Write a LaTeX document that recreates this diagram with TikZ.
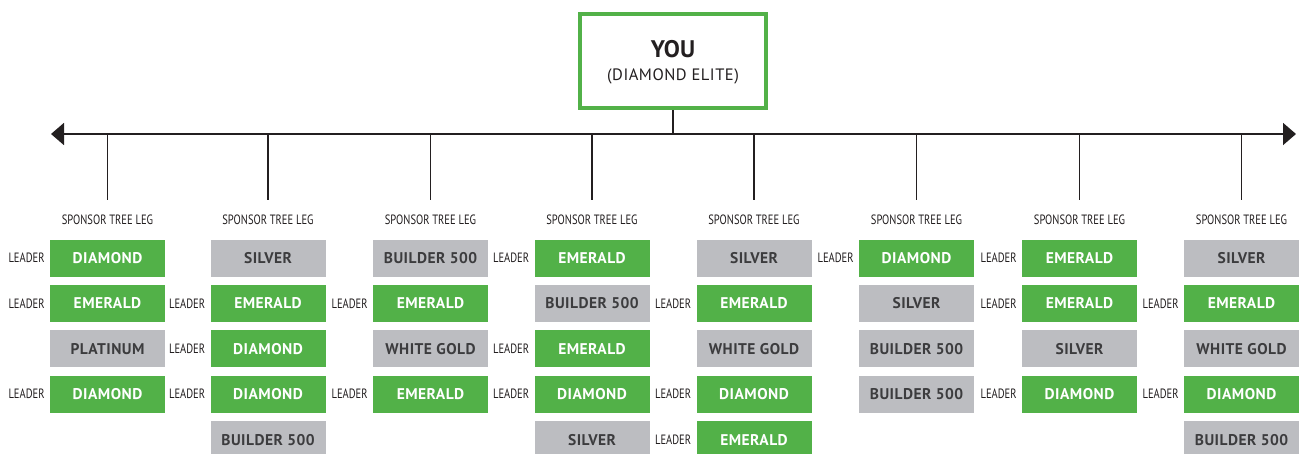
\documentclass[tikz,border=0pt]{standalone}
\usepackage{fontspec}
\setmainfont{PT Sans}
\newfontfamily\condf[FakeStretch=0.78]{PT Sans}
\newfontfamily\boxf[LetterSpace=3]{PT Sans}
\usetikzlibrary{arrows.meta}
\definecolor{grn}{HTML}{52B148}
\definecolor{gry}{HTML}{BCBDC1}
\definecolor{ink}{HTML}{231F20}
\definecolor{dtxt}{HTML}{3C3C3E}
\tikzset{
  boxbase/.style={minimum width=115pt, minimum height=37pt, inner sep=0pt,
    font=\boxf\bfseries\fontsize{15.5}{15.5}\selectfont},
  g/.style={boxbase, fill=grn, text=white},
  s/.style={boxbase, fill=gry, text=dtxt},
  lead/.style={anchor=east, inner sep=0pt, text=ink, font=\condf\fontsize{13.5}{13.5}\selectfont},
  spons/.style={inner sep=0pt, text=ink, font=\condf\fontsize{13.5}{13.5}\selectfont},
  conn/.style={draw=ink, line width=1.8pt},
  youbox/.style={draw=grn, line width=4pt, minimum width=186pt, minimum height=94pt, inner sep=0pt},
}
\newcommand\legcol[3]{%
  \coordinate (t#1) at (#2,134);
  \coordinate (d#1) at (#2,200);
  \draw[conn] (t#1) -- (d#1);
  \node[spons] (s#1) at (#2,220) {SPONSOR TREE LEG};
  \foreach \st/\ld/\txt [count=\j] in {#3} {
    \pgfmathsetmacro\yy{258+45.4*(\j-1)}
    \node[\st] (b#1-\j) at (#2,\yy) {\txt};
    \if\ld y\node[lead] (l#1-\j) at ([xshift=-5pt]b#1-\j.west) {LEADER};\fi
  }
}
\begin{document}
\begin{tikzpicture}[x=1pt,y=-1pt]
\useasboundingbox (0,0) rectangle (1299,453);
\node[youbox] (you) at (673,61) {};
\node[inner sep=0pt, text=ink, font=\bfseries\fontsize{24}{24}\selectfont] (youtxt) at (673,49) {YOU};
\node[inner sep=0pt, text=ink, font=\boxf\fontsize{16.5}{16.5}\selectfont] (youlvl) at (673,76) {(DIAMOND ELITE)};
\coordinate (L) at (51,134);
\coordinate (R) at (1296,134);
\draw[conn, {Triangle[length=13pt,width=22pt]}-{Triangle[length=13pt,width=22pt]}] (L) -- (R);
\draw[conn] (you.south) -- (you.south |- L);
\legcol{1}{107.5}{g/y/DIAMOND, g/y/EMERALD, s/n/PLATINUM, g/y/DIAMOND}
\legcol{2}{268}{s/n/SILVER, g/y/EMERALD, g/y/DIAMOND, g/y/DIAMOND, s/n/BUILDER 500}
\legcol{3}{430.5}{s/n/BUILDER 500, g/y/EMERALD, s/n/WHITE GOLD, g/y/EMERALD}
\legcol{4}{592}{g/y/EMERALD, s/n/BUILDER 500, g/y/EMERALD, g/y/DIAMOND, s/n/SILVER}
\legcol{5}{754}{s/n/SILVER, g/y/EMERALD, s/n/WHITE GOLD, g/y/DIAMOND, g/y/EMERALD}
\legcol{6}{916.5}{g/y/DIAMOND, s/n/SILVER, s/n/BUILDER 500, s/n/BUILDER 500}
\legcol{7}{1079.5}{g/y/EMERALD, g/y/EMERALD, s/n/SILVER, g/y/DIAMOND}
\legcol{8}{1241.5}{s/n/SILVER, g/y/EMERALD, s/n/WHITE GOLD, g/y/DIAMOND, s/n/BUILDER 500}
\end{tikzpicture}
\end{document}
